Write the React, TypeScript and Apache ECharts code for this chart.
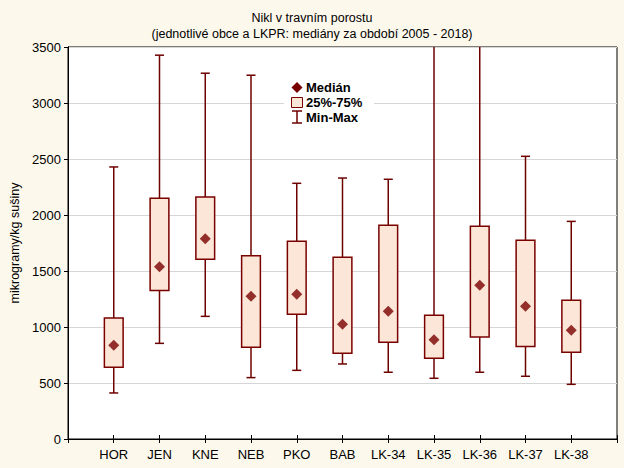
import React, { useEffect, useRef } from "react";
import * as echarts from "echarts";

const categories = ["HOR", "JEN", "KNE", "NEB", "PKO", "BAB", "LK-34", "LK-35", "LK-36", "LK-37", "LK-38"];
const minValues = [411, 854, 1095, 548, 613, 670, 596, 542, 596, 560, 488];
const q1Values = [640, 1327, 1604, 819, 1113, 765, 863, 720, 911, 827, 774];
const medianValues = [836, 1539, 1789, 1274, 1292, 1024, 1140, 887, 1372, 1185, 971];
const q3Values = [1080, 2149, 2161, 1637, 1765, 1622, 1908, 1104, 1899, 1774, 1238];
const maxValues = [2429, 3427, 3266, 3248, 2283, 2330, 2319, 3800, 3800, 2524, 1943];

const titleLine1 = "Nikl v travním porostu";
const titleLine2 = "(jednotlivé obce a LKPR: mediány za období 2005 - 2018)";
const yAxisName = "mikrogramy/kg sušiny";
const legendLabels = ["Medián", "25%-75%", "Min-Max"];

const FONT = "'Liberation Sans', Arial, sans-serif";
const DARK = "#6e0000";
const BOXFILL = "#fce6d7";

export default function App() {
  const ref = useRef<HTMLDivElement>(null);
  useEffect(() => {
    if (!ref.current) return;
    const chart = echarts.init(ref.current, undefined, { renderer: "svg" });
    const boxData = categories.map((_, i) => [i + 1, minValues[i], q1Values[i], q3Values[i], maxValues[i]]);
    const medData = categories.map((_, i) => [i + 1, medianValues[i]]);
    const option: any = {
      animation: false,
      backgroundColor: "#fdf8ec",
      textStyle: { fontFamily: FONT },
      title: {
        text: titleLine1 + "\n" + titleLine2,
        left: "center",
        top: 5,
        textStyle: { fontFamily: FONT, fontSize: 12.5, fontWeight: "normal", color: "#000", lineHeight: 16 },
      },
      grid: { left: 64, right: 7, top: 47, bottom: 29, show: true, backgroundColor: "#fff", borderColor: "#000", borderWidth: 1 },
      xAxis: [
        {
          type: "value", min: 0, max: 12, interval: 1, position: "bottom",
          axisLine: { show: true, lineStyle: { color: "#000" } },
          axisTick: { show: true, inside: true, length: 4, lineStyle: { color: "#000" } },
          axisLabel: {
            color: "#000", fontSize: 13, fontFamily: FONT, margin: 9,
            formatter: (v: number) => categories[v - 1] ?? "",
          },
          splitLine: { show: false },
        },
        {
          type: "value", min: 0, max: 12, interval: 1, position: "top",
          axisLine: { show: true, lineStyle: { color: "#000" } },
          axisTick: { show: true, inside: true, length: 4, lineStyle: { color: "#000" } },
          axisLabel: { show: false },
          splitLine: { show: false },
        },
      ],
      yAxis: [
        {
          type: "value", min: 0, max: 3500, interval: 500,
          axisLine: { show: true, lineStyle: { color: "#000" } },
          axisTick: { show: false },
          axisLabel: { color: "#000", fontSize: 13, fontFamily: FONT, margin: 7, formatter: (v: number) => String(v) },
          splitLine: { show: true, lineStyle: { color: "#d6d6d6" } },
          name: yAxisName, nameLocation: "middle", nameGap: 47, nameRotate: 90,
          nameTextStyle: { color: "#000", fontSize: 12.5, fontFamily: FONT },
        },
        {
          type: "value", min: 0, max: 3500, interval: 500, position: "right",
          axisLine: { show: true, lineStyle: { color: "#000" } },
          axisTick: { show: true, inside: true, length: 4, lineStyle: { color: "#000" } },
          axisLabel: { show: false },
          splitLine: { show: false },
        },
      ],
      series: [
        {
          type: "custom",
          clip: true,
          data: boxData,
          encode: { x: 0, y: [1, 2, 3, 4] },
          renderItem: (params: any, api: any) => {
            const x = api.value(0);
            const pMin = api.coord([x, api.value(1)]);
            const pQ1 = api.coord([x, api.value(2)]);
            const pQ3 = api.coord([x, api.value(3)]);
            const pMax = api.coord([x, api.value(4)]);
            const bw = api.size([1, 0])[0] * 0.41;
            const cw = 9;
            const cx = pMin[0];
            const ls = { stroke: DARK, lineWidth: 1.5 };
            return {
              type: "group",
              children: [
                { type: "line", shape: { x1: cx, y1: pMin[1], x2: cx, y2: pMax[1] }, style: ls },
                { type: "line", shape: { x1: cx - cw / 2, y1: pMin[1], x2: cx + cw / 2, y2: pMin[1] }, style: ls },
                { type: "line", shape: { x1: cx - cw / 2, y1: pMax[1], x2: cx + cw / 2, y2: pMax[1] }, style: ls },
                {
                  type: "rect",
                  shape: { x: cx - bw / 2, y: pQ3[1], width: bw, height: pQ1[1] - pQ3[1] },
                  style: { fill: BOXFILL, stroke: "#7a0000", lineWidth: 1.5 },
                },
              ],
            };
          },
          z: 2,
        },
        {
          type: "scatter",
          data: medData,
          symbol: "diamond",
          symbolSize: [11, 11],
          itemStyle: { color: "#780000" },
          z: 3,
        },
      ],
      graphic: [
        { type: "rect", shape: { x: 284, y: 79, width: 90, height: 48 }, style: { fill: "#fff" }, z: 10 },
        { type: "polygon", shape: { points: [[297, 82], [302.5, 87.5], [297, 93], [291.5, 87.5]] }, style: { fill: "#780000" }, z: 11 },
        { type: "rect", shape: { x: 291.5, y: 97.5, width: 11, height: 10 }, style: { fill: BOXFILL, stroke: "#7a0000", lineWidth: 1 }, z: 11 },
        { type: "line", shape: { x1: 297, y1: 111, x2: 297, y2: 123 }, style: { stroke: DARK, lineWidth: 1.5 }, z: 11 },
        { type: "line", shape: { x1: 292, y1: 111, x2: 302, y2: 111 }, style: { stroke: DARK, lineWidth: 1.5 }, z: 11 },
        { type: "line", shape: { x1: 292, y1: 123, x2: 302, y2: 123 }, style: { stroke: DARK, lineWidth: 1.5 }, z: 11 },
        { type: "text", x: 306, y: 87.5, style: { text: legendLabels[0], font: "bold 13px " + FONT, fill: "#000", textVerticalAlign: "middle" }, z: 11 },
        { type: "text", x: 306, y: 102.5, style: { text: legendLabels[1], font: "bold 13px " + FONT, fill: "#000", textVerticalAlign: "middle" }, z: 11 },
        { type: "text", x: 306, y: 117.5, style: { text: legendLabels[2], font: "bold 13px " + FONT, fill: "#000", textVerticalAlign: "middle" }, z: 11 },
      ],
    };
    chart.setOption(option);
    return () => chart.dispose();
  }, []);
  return <div ref={ref} style={{ position: "fixed", left: 0, top: 0, width: 624, height: 468 }} />;
}
